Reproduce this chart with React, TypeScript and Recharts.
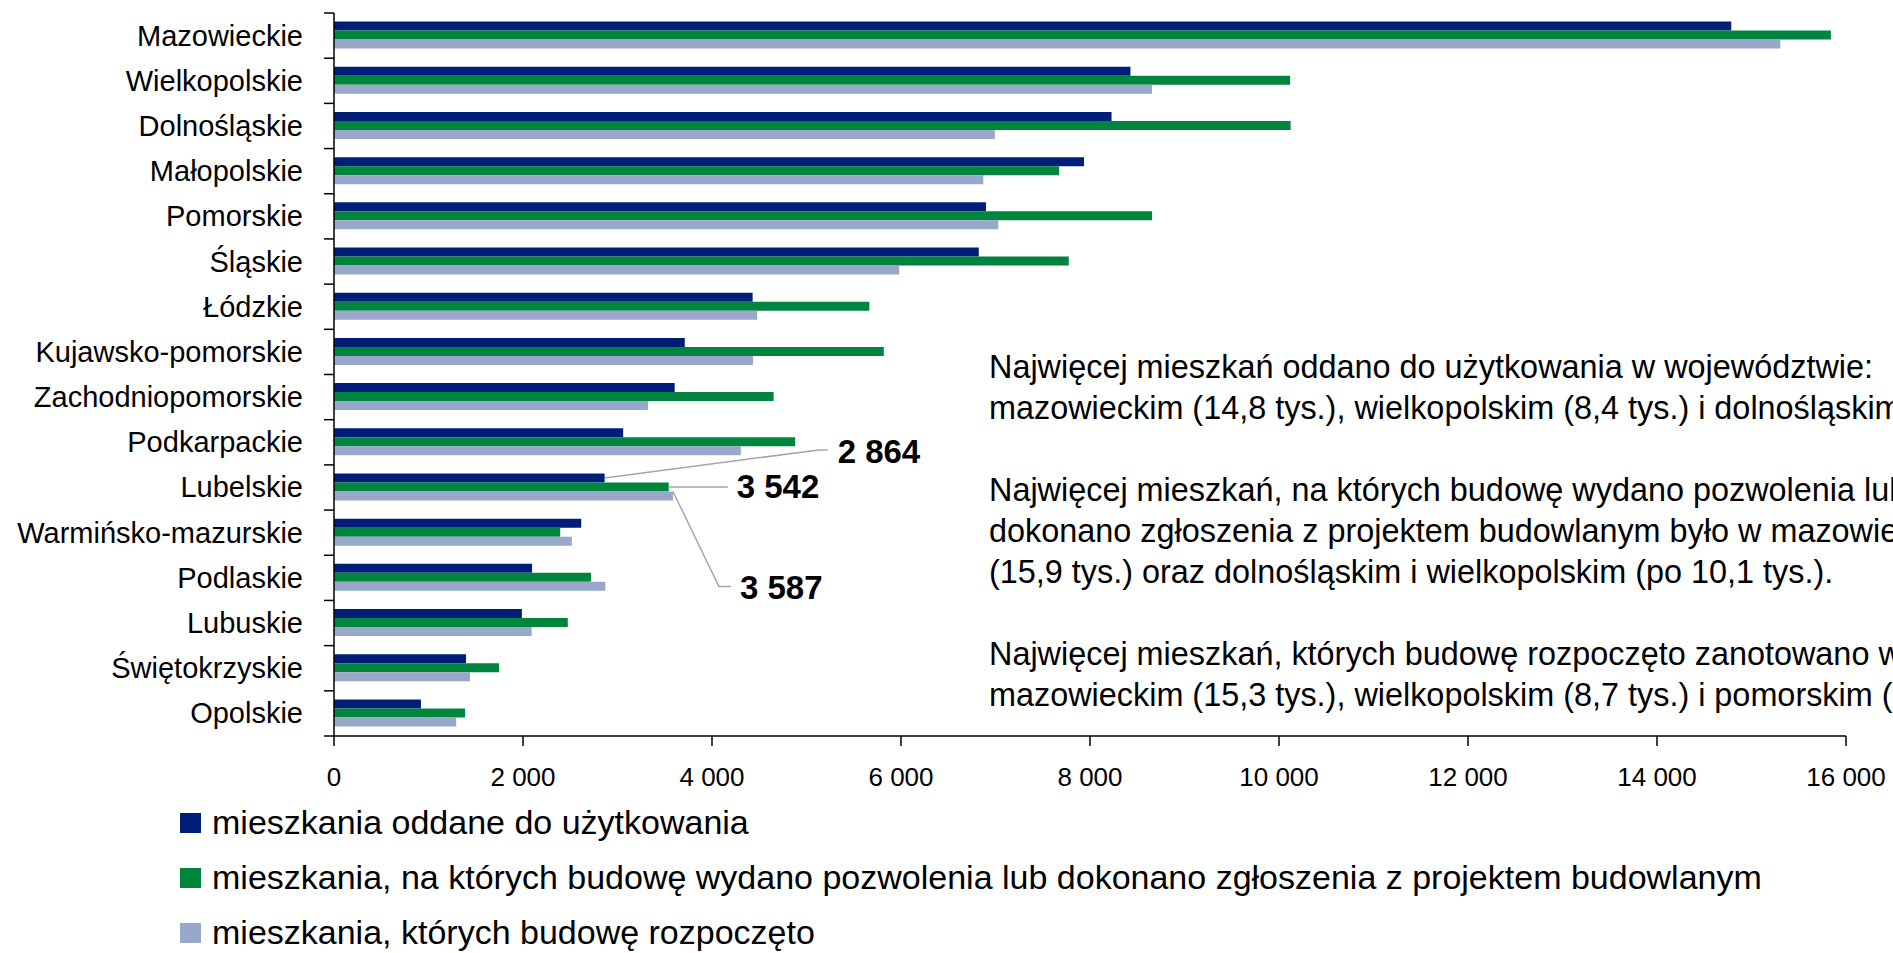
import React from "react";
import { BarChart, Bar, XAxis, YAxis, LabelList } from "recharts";

// województwa, od największej liczby mieszkań oddanych
const categories = [
  "Mazowieckie",
  "Wielkopolskie",
  "Dolnośląskie",
  "Małopolskie",
  "Pomorskie",
  "Śląskie",
  "Łódzkie",
  "Kujawsko-pomorskie",
  "Zachodniopomorskie",
  "Podkarpackie",
  "Lubelskie",
  "Warmińsko-mazurskie",
  "Podlaskie",
  "Lubuskie",
  "Świętokrzyskie",
  "Opolskie",
];

const oddane = [14786, 8428, 8228, 7937, 6899, 6823, 4430, 3712, 3605, 3060, 2864, 2616, 2096, 1988, 1397, 920];
const pozwolenia = [15840, 10118, 10123, 7673, 8657, 7775, 5665, 5818, 4652, 4880, 3542, 2394, 2720, 2474, 1747, 1388];
const rozpoczete = [15305, 8657, 6993, 6871, 7030, 5981, 4478, 4434, 3324, 4305, 3587, 2517, 2871, 2092, 1439, 1293];

const xTicks = [0, 2000, 4000, 6000, 8000, 10000, 12000, 14000, 16000];

const seriesNames = [
  "mieszkania oddane do użytkowania",
  "mieszkania, na których budowę wydano pozwolenia lub dokonano zgłoszenia z projektem budowlanym",
  "mieszkania, których budowę rozpoczęto",
];

const noteLines = [
  "Najwięcej mieszkań oddano do użytkowania w województwie:",
  "mazowieckim (14,8 tys.), wielkopolskim (8,4 tys.) i dolnośląskim (8,2 tys.).",
  "",
  "Najwięcej mieszkań, na których budowę wydano pozwolenia lub",
  "dokonano zgłoszenia z projektem budowlanym było w mazowieckim",
  "(15,9 tys.) oraz dolnośląskim i wielkopolskim (po 10,1 tys.).",
  "",
  "Najwięcej mieszkań, których budowę rozpoczęto zanotowano w",
  "mazowieckim (15,3 tys.), wielkopolskim (8,7 tys.) i pomorskim (7,0 tys.).",
];

const calloutCategory = "Lubelskie";

const COLORS = ["#001e77", "#00853f", "#99a7ca"];
const FONT = "'Liberation Sans', Arial, sans-serif";

const data = categories.map((name, i) => ({
  name,
  oddane: oddane[i],
  pozwolenia: pozwolenia[i],
  rozpoczete: rozpoczete[i],
}));

const series = [
  { key: "oddane", name: seriesNames[0], color: COLORS[0] },
  { key: "pozwolenia", name: seriesNames[1], color: COLORS[1] },
  { key: "rozpoczete", name: seriesNames[2], color: COLORS[2] },
];

// where the leader line bends and where the value sits, relative to the bar end
const calloutOffsets = [
  { path: [[214, -28], [223, -28]], text: [233, -26] },
  { path: [[59, 0]], text: [68, 0] },
  { path: [[46, 95], [58, 95]], text: [67, 96] },
];

const fmt = (v: number) => String(v).replace(/\B(?=(\d{3})+(?!\d))/g, " ");

function YTick(props: any) {
  const { x, y, payload, index } = props;
  const off = payload && payload.offset ? payload.offset : 22.6;
  const last = index === categories.length - 1;
  return (
    <g>
      <line x1={x - 10} x2={x} y1={y - off} y2={y - off} stroke="#000" strokeWidth={1.5} />
      {last && <line x1={x - 10} x2={x} y1={y + off} y2={y + off} stroke="#000" strokeWidth={1.5} />}
      <text x={x - 31} y={y} textAnchor="end" dominantBaseline="central" fontSize={29} fontFamily={FONT} fill="#000">
        {payload.value}
      </text>
    </g>
  );
}

function makeCallout(si: number) {
  return (props: any) => {
    const { x, y, width, height, value, index } = props;
    if (categories[index] !== calloutCategory) return null;
    const x0 = Number(x) + Number(width);
    const y0 = si === 2 ? Number(y) : Number(y) + Number(height) / 2;
    const o = calloutOffsets[si];
    const pts = [[x0, y0], ...o.path.map(([dx, dy]) => [x0 + dx, y0 + dy])];
    return (
      <g>
        <polyline points={pts.map((p) => p.join(",")).join(" ")} fill="none" stroke="#a6a6a6" strokeWidth={1.5} />
        <text
          x={x0 + o.text[0]}
          y={y0 + o.text[1]}
          dominantBaseline="central"
          fontSize={33}
          fontWeight="bold"
          fontFamily={FONT}
          fill="#000"
        >
          {fmt(value)}
        </text>
      </g>
    );
  };
}

export default function App() {
  return (
    <div style={{ position: "relative", width: 1893, height: 953, overflow: "hidden", background: "#fff", fontFamily: FONT }}>
      <style>{`body{margin:0}`}</style>
      <BarChart
        width={1893}
        height={953}
        data={data}
        layout="vertical"
        margin={{ top: 13, right: 47, bottom: 187, left: 0 }}
        barCategoryGap="19%"
        barGap={0}
      >
        <XAxis
          type="number"
          domain={[0, 16000]}
          ticks={xTicks}
          tickFormatter={fmt}
          height={30}
          tickSize={10}
          tickMargin={22}
          axisLine={{ stroke: "#000", strokeWidth: 1.5 }}
          tickLine={{ stroke: "#000", strokeWidth: 1.5 }}
          tick={{ fontSize: 26, fill: "#000", fontFamily: FONT }}
        />
        <YAxis
          type="category"
          dataKey="name"
          width={334}
          tickSize={0}
          tickMargin={0}
          tickLine={false}
          interval={0}
          axisLine={{ stroke: "#000", strokeWidth: 1.5 }}
          tick={<YTick />}
        />
        {series.map((s, si) => (
          <Bar key={s.key} dataKey={s.key} name={s.name} fill={s.color} isAnimationActive={false}>
            <LabelList dataKey={s.key} content={makeCallout(si)} />
          </Bar>
        ))}
      </BarChart>

      <div style={{ position: "absolute", left: 989, top: 347, fontSize: 32.4, lineHeight: "41px", color: "#000", whiteSpace: "nowrap" }}>
        {noteLines.map((l, i) => (
          <div key={i} style={{ height: 41 }}>{l}</div>
        ))}
      </div>

      <div style={{ position: "absolute", left: 180, top: 795, fontSize: 34, color: "#000" }}>
        {series.map((s) => (
          <div key={s.key} style={{ display: "flex", alignItems: "center", height: 55, whiteSpace: "nowrap" }}>
            <span style={{ display: "inline-block", width: 21, height: 20, background: s.color, marginRight: 11 }} />
            <span>{s.name}</span>
          </div>
        ))}
      </div>
    </div>
  );
}
